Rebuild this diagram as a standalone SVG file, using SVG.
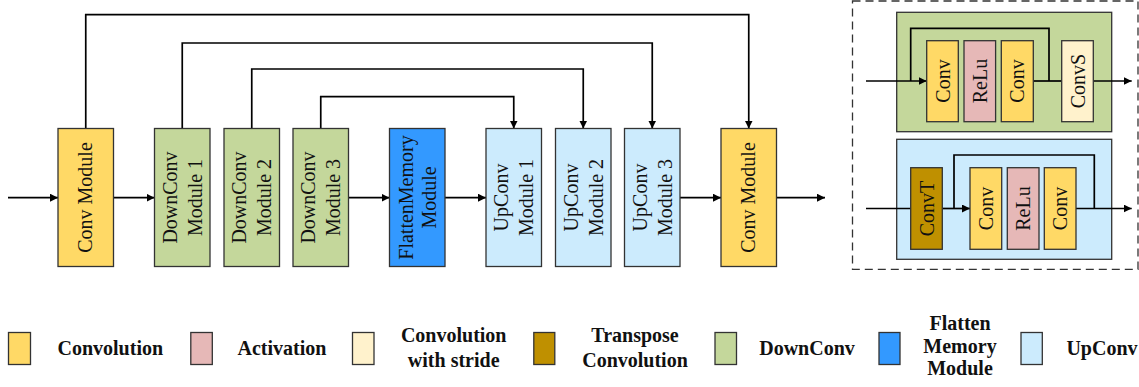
<svg xmlns="http://www.w3.org/2000/svg" width="1139" height="387" viewBox="0 0 1139 387">
<defs>
<marker id="ah" viewBox="0 0 10 10" refX="10" refY="5" markerWidth="8" markerHeight="8" markerUnits="userSpaceOnUse" orient="auto">
<path d="M0,0 L10,5 L0,10 z" fill="#000"/>
</marker>
<style>
.box{stroke:#333;stroke-width:1.3}
.conv{fill:#FFD966}
.relu{fill:#E6B8B7}
.convs{fill:#FFF2CC}
.convt{fill:#BF9000}
.down{fill:#C4D79B}
.flat{fill:#3399FF}
.up{fill:#CCEBFD}
.lbl{font-family:"Liberation Serif","Times New Roman",serif;font-size:20px;fill:#111;text-anchor:middle}
.leg{font-family:"Liberation Serif","Times New Roman",serif;font-size:20px;font-weight:bold;fill:#111;text-anchor:middle}
.ln{fill:none;stroke:#000;stroke-width:1.7}
.arr{fill:none;stroke:#000;stroke-width:1.7;marker-end:url(#ah)}
</style>
</defs>
<rect width="1139" height="387" fill="#fff"/>

<!-- main connectors -->
<g id="connectors">
<path class="arr" d="M8,197.7 H58"/>
<path class="arr" d="M113.5,197.7 H154.5"/>
<path class="arr" d="M348.5,197.7 H389.5"/>
<path class="arr" d="M445,197.7 H486"/>
<path class="arr" d="M680,197.7 H721"/>
<path class="arr" d="M776.5,197.7 H825"/>
<path class="arr" d="M85.75,128.5 V14.7 H748.75 V128.5"/>
<path class="arr" d="M182.25,128.5 V43 H652.25 V128.5"/>
<path class="arr" d="M251.75,128.5 V69 H583.25 V128.5"/>
<path class="arr" d="M320.75,128.5 V96.7 H513.75 V128.5"/>
</g>

<!-- main nodes -->
<g id="conv-module-1">
<rect class="box conv" x="58" y="128.5" width="55.5" height="138"/>
<text class="lbl" transform="translate(92.25,197.5) rotate(-90)">Conv Module</text>
</g>
<g id="downconv-1">
<rect class="box down" x="154.5" y="128.5" width="55.5" height="138"/>
<text class="lbl" transform="translate(176.75,197.5) rotate(-90)">DownConv</text>
<text class="lbl" transform="translate(201.75,197.5) rotate(-90)">Module 1</text>
</g>
<g id="downconv-2">
<rect class="box down" x="224" y="128.5" width="55.5" height="138"/>
<text class="lbl" transform="translate(246.25,197.5) rotate(-90)">DownConv</text>
<text class="lbl" transform="translate(271.25,197.5) rotate(-90)">Module 2</text>
</g>
<g id="downconv-3">
<rect class="box down" x="293" y="128.5" width="55.5" height="138"/>
<text class="lbl" transform="translate(315.25,197.5) rotate(-90)">DownConv</text>
<text class="lbl" transform="translate(340.25,197.5) rotate(-90)">Module 3</text>
</g>
<g id="flatten-memory">
<rect class="box flat" x="389.5" y="128.5" width="55.5" height="138"/>
<text class="lbl" transform="translate(412.75,197.5) rotate(-90)">FlattenMemory</text>
<text class="lbl" transform="translate(435.5,197.5) rotate(-90)">Module</text>
</g>
<g id="upconv-1">
<rect class="box up" x="486" y="128.5" width="55.5" height="138"/>
<text class="lbl" transform="translate(508.25,197.5) rotate(-90)">UpConv</text>
<text class="lbl" transform="translate(533.25,197.5) rotate(-90)">Module 1</text>
</g>
<g id="upconv-2">
<rect class="box up" x="555.5" y="128.5" width="55.5" height="138"/>
<text class="lbl" transform="translate(577.75,197.5) rotate(-90)">UpConv</text>
<text class="lbl" transform="translate(602.75,197.5) rotate(-90)">Module 2</text>
</g>
<g id="upconv-3">
<rect class="box up" x="624.5" y="128.5" width="55.5" height="138"/>
<text class="lbl" transform="translate(646.75,197.5) rotate(-90)">UpConv</text>
<text class="lbl" transform="translate(671.75,197.5) rotate(-90)">Module 3</text>
</g>
<g id="conv-module-2">
<rect class="box conv" x="721" y="128.5" width="55.5" height="138"/>
<text class="lbl" transform="translate(755.25,197.5) rotate(-90)">Conv Module</text>
</g>

<!-- detail panel -->
<g id="detail-panel">
<rect x="852.5" y="1" width="285.5" height="268.3" fill="none" stroke="#333" stroke-width="1.3" stroke-dasharray="8 5"/>
</g>
<g id="downconv-detail">
<rect class="box down" x="896.7" y="12.3" width="215" height="119.4"/>
</g>
<g id="upconv-detail">
<rect class="box up" x="896.7" y="139.3" width="215" height="120"/>
</g>
<g id="panel-connectors">
<path class="arr" d="M866,81 H926.7"/>
<path class="ln" d="M910.7,81 V28.3 H1049 V81"/>
<path class="ln" d="M1033.3,81 H1061.7"/>
<path class="arr" d="M1093.3,81 H1131.7"/>
<path class="ln" d="M866,208.5 H910.7"/>
<path class="arr" d="M942.3,208.5 H970"/>
<path class="ln" d="M954,208.5 V155 H1094.3 V208.5"/>
<path class="arr" d="M1076,208.5 H1131.7"/>
</g>
<g id="d-conv-1">
<rect class="box conv" x="926.7" y="40.7" width="31.6" height="81"/>
<text class="lbl" transform="translate(949.5,81) rotate(-90)">Conv</text>
</g>
<g id="d-relu-1">
<rect class="box relu" x="964" y="40.7" width="31.6" height="81"/>
<text class="lbl" transform="translate(986.8,81) rotate(-90)">ReLu</text>
</g>
<g id="d-conv-2">
<rect class="box conv" x="1001.3" y="40.7" width="32" height="81"/>
<text class="lbl" transform="translate(1024.3,81) rotate(-90)">Conv</text>
</g>
<g id="d-convs">
<rect class="box convs" x="1061.7" y="40.7" width="31.6" height="81"/>
<text class="lbl" transform="translate(1084.5,81) rotate(-90)">ConvS</text>
</g>
<g id="d-convt">
<rect class="box convt" x="910.7" y="167.7" width="31.6" height="81.6"/>
<text class="lbl" transform="translate(933.5,208.5) rotate(-90)">ConvT</text>
</g>
<g id="d-conv-3">
<rect class="box conv" x="970" y="167.7" width="31.7" height="81.6"/>
<text class="lbl" transform="translate(992.8,208.5) rotate(-90)">Conv</text>
</g>
<g id="d-relu-2">
<rect class="box relu" x="1007.3" y="167.7" width="31.7" height="81.6"/>
<text class="lbl" transform="translate(1030.2,208.5) rotate(-90)">ReLu</text>
</g>
<g id="d-conv-4">
<rect class="box conv" x="1044.3" y="167.7" width="31.7" height="81.6"/>
<text class="lbl" transform="translate(1067.2,208.5) rotate(-90)">Conv</text>
</g>

<!-- legend -->
<g id="legend">
<rect class="box conv" x="8.5" y="332.5" width="22" height="32"/>
<text class="leg" x="110.3" y="355">Convolution</text>
<rect class="box relu" x="190.8" y="332.5" width="21.5" height="32"/>
<text class="leg" x="282" y="355">Activation</text>
<rect class="box convs" x="352.5" y="332.5" width="21.5" height="32"/>
<text class="leg" x="453.7" y="342.3">Convolution</text>
<text class="leg" x="453.7" y="366.7">with stride</text>
<rect class="box convt" x="533.8" y="332.5" width="21" height="32"/>
<text class="leg" x="635" y="342.3">Transpose</text>
<text class="leg" x="635" y="366.7">Convolution</text>
<rect class="box down" x="715" y="332.5" width="21.5" height="32"/>
<text class="leg" x="807" y="355">DownConv</text>
<rect class="box flat" x="879" y="332.5" width="21" height="32"/>
<text class="leg" x="960" y="330">Flatten</text>
<text class="leg" x="960" y="352.5">Memory</text>
<text class="leg" x="960" y="375">Module</text>
<rect class="box up" x="1021" y="332.5" width="21.3" height="32"/>
<text class="leg" x="1102" y="355">UpConv</text>
</g>
</svg>
